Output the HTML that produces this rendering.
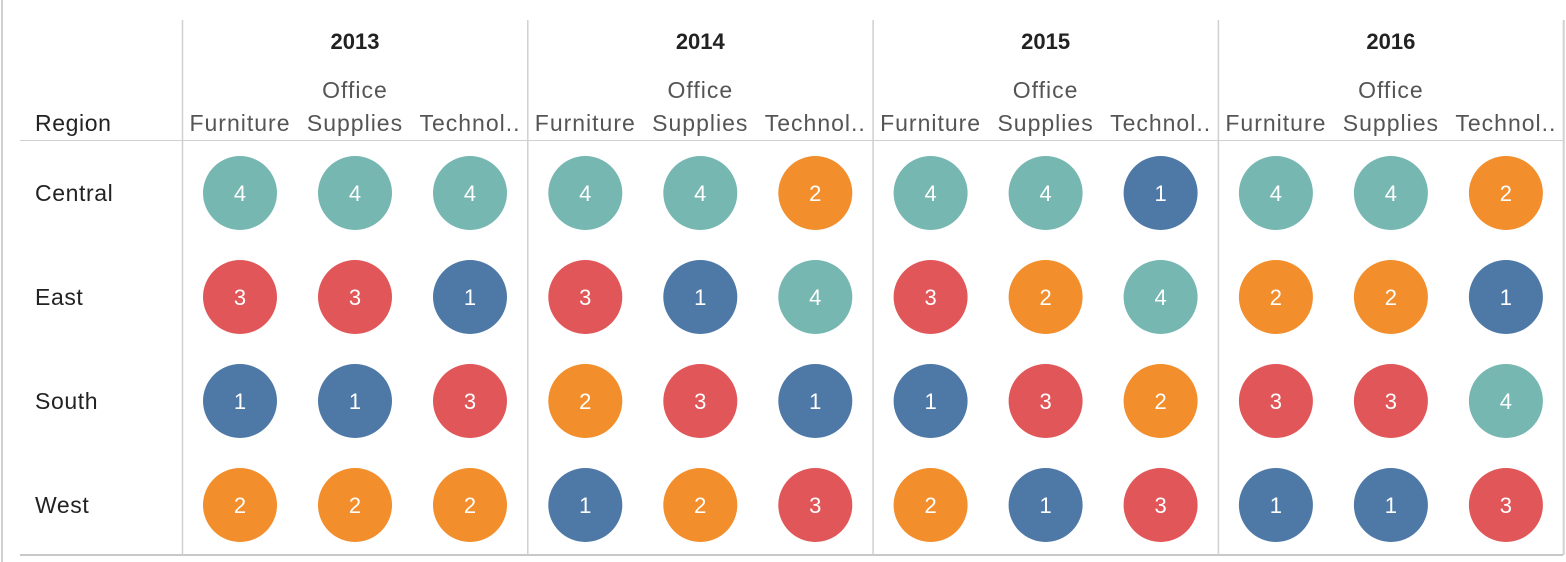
<!DOCTYPE html>
<html><head><meta charset="utf-8"><style>
body{margin:0;background:#fff;width:1566px;height:562px;overflow:hidden}
svg{display:block;font-family:"Liberation Sans",sans-serif}
</style></head><body>
<svg width="1566" height="562">
<line x1="2" y1="0" x2="2" y2="562" stroke="#d0d0d0" stroke-width="2"/>
<line x1="20" y1="140.5" x2="1563" y2="140.5" stroke="#d0d0d0"/>
<line x1="20" y1="555" x2="1563" y2="555" stroke="#c8c8c8" stroke-width="2"/>
<text x="35" y="131" font-size="23" letter-spacing="0.6" fill="#222">Region</text>
<g id="g"></g>
</svg>
<script>
const years=["2013","2014","2015","2016"];
const categories=["Furniture","Office Supplies","Technol.."];
const regions=["Central","East","South","West"];
const ranks2013=[[4,4,4],[3,3,1],[1,1,3],[2,2,2]];
const ranks2014=[[4,4,2],[3,1,4],[2,3,1],[1,2,3]];
const ranks2015=[[4,4,1],[3,2,4],[1,3,2],[2,1,3]];
const ranks2016=[[4,4,2],[2,2,1],[3,3,4],[1,1,3]];
const allRanks=[ranks2013,ranks2014,ranks2015,ranks2016];
const colors={1:"#4e79a7",2:"#f28e2b",3:"#e15759",4:"#76b7b2"};
const NS="http://www.w3.org/2000/svg",g=document.getElementById('g');
function mk(t,a,txt){const e=document.createElementNS(NS,t);for(const k in a)e.setAttribute(k,a[k]);if(txt!=null)e.textContent=txt;g.appendChild(e);return e;}
const paneX=i=>182+i*345.3, colX=(i,j)=>paneX(i)+58+j*115, rowY=r=>193+r*104;
for(let i=0;i<=years.length;i++){
  const l=mk('line',{x1:paneX(i)+0.5,y1:20,x2:paneX(i)+0.5,y2:555,stroke:'#d0d0d0','stroke-width':i==years.length?2:1.5});
  
  
}
years.forEach((y,i)=>{
  const t=mk('text',{x:paneX(i)+173,y:49,'font-size':22,'font-weight':'bold','text-anchor':'middle',fill:'#222'},y);
  
  
  categories.forEach((c,j)=>{
    const x=colX(i,j);
    const hs={'font-size':23,'letter-spacing':1,'text-anchor':'middle',fill:'#555'};
    if(c==="Office Supplies"){
      const a=mk('text',Object.assign({x:x,y:98},hs),"Office");
      
      
      const b=mk('text',Object.assign({x:x,y:131},hs),"Supplies");
      
      
    } else {
      const a=mk('text',Object.assign({x:x,y:131},hs),c);
      
      
    }
    regions.forEach((r,k)=>{
      const v=allRanks[i][k][j];
      const ci=mk('circle',{cx:x,cy:rowY(k),r:37,fill:colors[v]});
      
      
      const tv=mk('text',{x:x,y:rowY(k)+8,'font-size':22,'text-anchor':'middle',fill:'#fff'},v);
      
      
    });
  });
});
regions.forEach((r,k)=>{
  const t=mk('text',{x:35,y:rowY(k)+8,'font-size':23,'letter-spacing':0.6,fill:'#222'},r);
  
  
});
</script>
</body></html>
